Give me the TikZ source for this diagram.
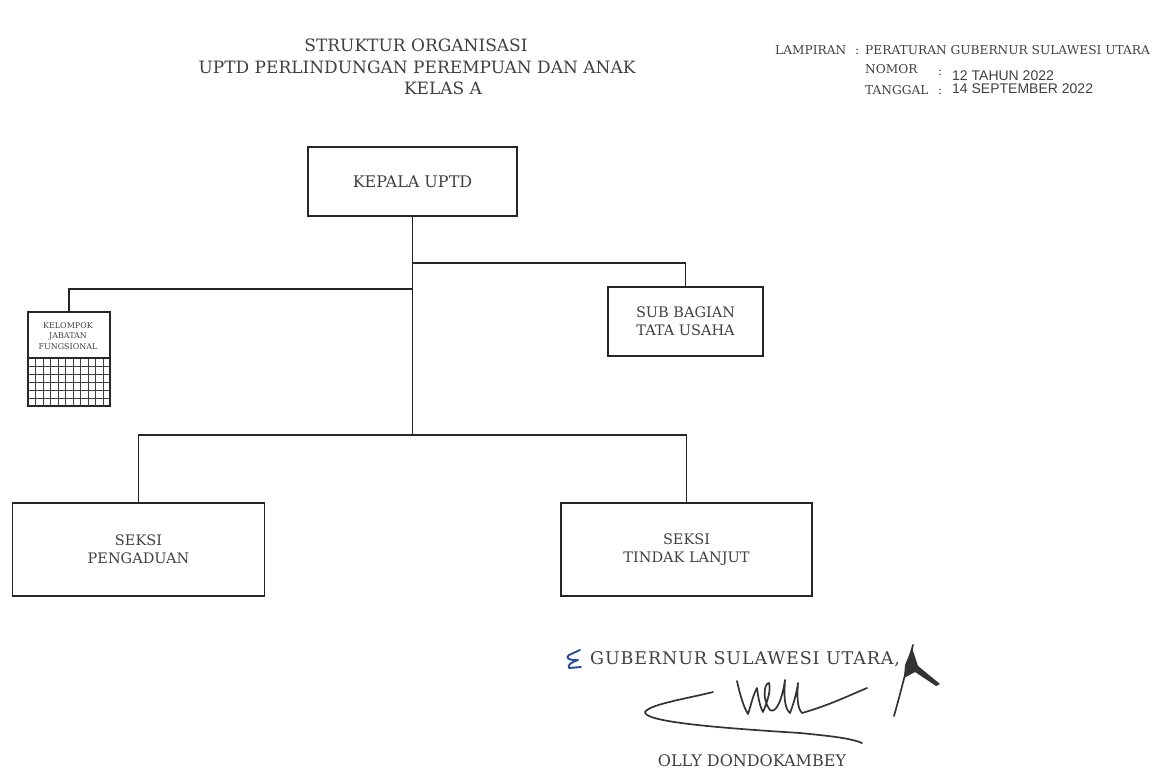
\documentclass[tikz,border=0pt]{standalone}
\usepackage{fontspec}
\setmainfont{DejaVu Serif}
\newfontfamily\arialf{Liberation Sans}
\newfontfamily\widef[LetterSpace=5]{DejaVu Serif}
\definecolor{txt}{HTML}{404040}
\definecolor{inkblue}{HTML}{2A4E9A}
\begin{document}
\begin{tikzpicture}[x=1pt,y=-1pt,
  box/.style={draw=black!85,line width=1.8pt,fill=white,inner sep=0pt,align=center,text=txt},
  conn/.style={draw=black!85,line width=1.8pt},
  ttl/.style={text=txt,inner sep=0pt,font=\fontsize{17}{19}\selectfont},
  hdr/.style={text=txt,inner sep=0pt,anchor=base west,font=\fontsize{12.2}{14}\selectfont},
  val/.style={text=txt,inner sep=0pt,anchor=base west,font=\arialf\fontsize{14}{16}\selectfont},
  sig/.style={line width=1.7pt,draw=black!80,line cap=round,line join=round}]
\useasboundingbox[fill=white] (0,0) rectangle (1159,773);

% title
\node[ttl] (t1) at (416,45) {STRUKTUR ORGANISASI};
\node[ttl] (t2) at (417,67) {UPTD PERLINDUNGAN PEREMPUAN DAN ANAK};
\node[ttl] (t3) at (443,88) {KELAS A};

% header right
\node[hdr] (lam) at (775,55) {LAMPIRAN};
\node[hdr] (lamc) at (855,55) {:};
\node[hdr] (lamv) at (865,55) {PERATURAN GUBERNUR SULAWESI UTARA};
\node[hdr] (nom) at (865,74) {NOMOR};
\node[hdr] (nomc) at (938,76) {:};
\node[val] (nomv) at (952,80.5) {12 TAHUN 2022};
\node[hdr] (tgl) at (865,95) {TANGGAL};
\node[hdr] (tglc) at (938,95) {:};
\node[val] (tglv) at (952,94) {14 SEPTEMBER 2022};

% boxes
\node[box,minimum width=209pt,minimum height=69pt,font=\fontsize{16}{18}\selectfont] (kepala) at (412.5,181.5) {KEPALA UPTD};
\node[box,minimum width=155pt,minimum height=69pt,font=\fontsize{14.5}{18}\selectfont] (sub) at (685.5,321.5) {SUB BAGIAN\\TATA USAHA};
\node[box,minimum width=252pt,minimum height=93pt,font=\fontsize{14.5}{18}\selectfont] (peng) at (138.5,549.5) {SEKSI\\PENGADUAN};
\node[box,minimum width=251pt,minimum height=93pt,font=\fontsize{14.5}{18}\selectfont] (tindak) at (686.5,549.5) {SEKSI\\TINDAK LANJUT};
\node[box,minimum width=82pt,minimum height=94pt,line width=1.4pt] (kel) at (69,359) {};
\node[text=txt,inner sep=0pt,align=center,font=\fontsize{8}{10.5}\selectfont] (keltxt) at (68,336) {KELOMPOK\\JABATAN\\FUNGSIONAL};

% grid
\foreach \yy in {366,374,382,390,398} \draw[black!75,line width=0.6pt] (28,\yy) -- (110,\yy);
\foreach \xx in {35.5,43,50.5,58,65.5,73,80.5,88,95.5,103} \draw[black!75,line width=0.6pt] (\xx,358) -- (\xx,406);
\draw[black!85,line width=1.2pt] (28,358) -- (110,358);

% connectors
\coordinate (j1) at (412.5,263);
\coordinate (j2) at (412.5,289);
\coordinate (j3) at (412.5,435);
\draw[conn] (kepala.south) -- (j3);
\draw[conn] (j1) -| (sub.north);
\draw[conn] (j2) -| (kel.north);
\draw[conn] (peng.north) |- (j3) -| (tindak.north);

% signature block
\node[text=txt,inner sep=0pt,anchor=west,font=\widef\fontsize{17.5}{19}\selectfont] (gub) at (590,659) {GUBERNUR SULAWESI UTARA,};
\node[text=txt,inner sep=0pt,font=\fontsize{16}{18}\selectfont] (olly) at (752,761) {OLLY DONDOKAMBEY};

% logo scribble
\draw[inkblue,line width=1.9pt,line cap=round,line join=round]
  (580,650) -- (569,655) .. controls (564,658) and (571,661) .. (578,660)
  .. controls (572,662) and (567,665) .. (569,668) -- (581,667);

% signature
\draw[sig] (713,692) .. controls (690,698) and (650,704) .. (645,712)
  .. controls (644,722) and (720,728) .. (800,733)
  .. controls (830,736) and (850,738) .. (862,743);
\draw[sig] (737,681) .. controls (740,695) and (744,708) .. (748,714)
  .. controls (751,705) and (753,695) .. (757,688)
  .. controls (758,697) and (760,707) .. (763,712)
  .. controls (768,700) and (771,690) .. (769,683)
  .. controls (764,683) and (762,700) .. (770,710)
  .. controls (776,714) and (782,700) .. (785,680)
  .. controls (784,695) and (784,708) .. (790,713)
  .. controls (795,700) and (797,690) .. (798,683)
  .. controls (797,695) and (797,708) .. (802,713)
  .. controls (830,705) and (850,695) .. (867,688);
% paraf
\draw[sig] (894,716) .. controls (900,695) and (906,670) .. (913,645);
\fill[black!80] (905,665) -- (912,648) -- (918,666) -- (940,684) -- (936,686) -- (915,672) -- (904,678) -- cycle;
\end{tikzpicture}
\end{document}
